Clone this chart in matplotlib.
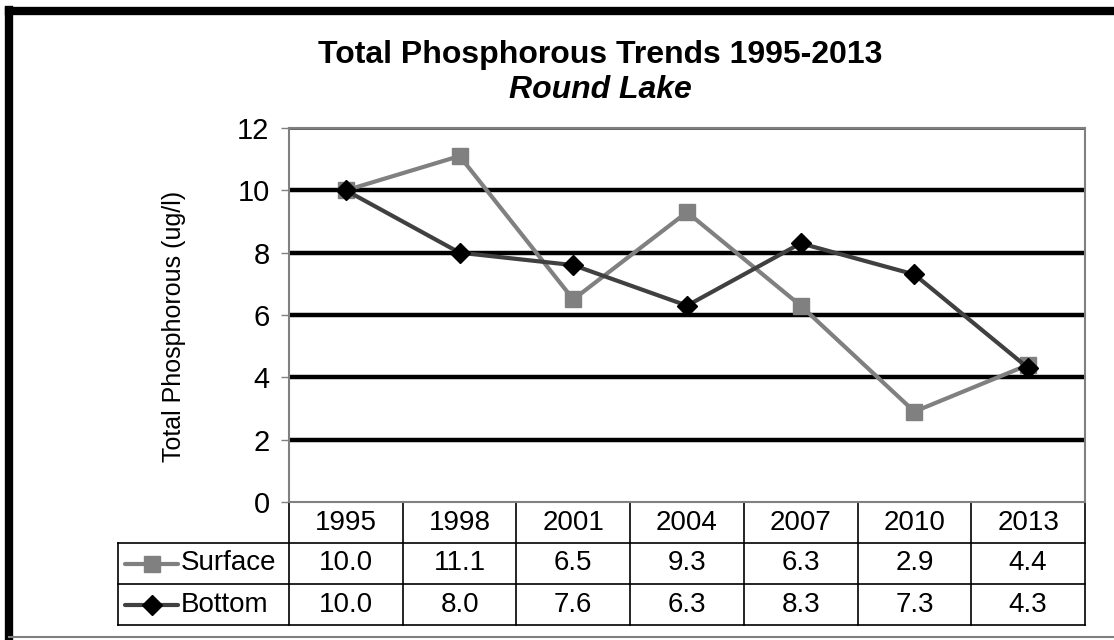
import matplotlib
matplotlib.use("Agg")
import matplotlib.pyplot as plt
from matplotlib.lines import Line2D
from matplotlib.transforms import blended_transform_factory

plt.rcParams['font.family'] = ['Liberation Sans', 'DejaVu Sans']

years = ["1995", "1998", "2001", "2004", "2007", "2010", "2013"]
surface = [10.0, 11.1, 6.5, 9.3, 6.3, 2.9, 4.4]
bottom = [10.0, 8.0, 7.6, 6.3, 8.3, 7.3, 4.3]
series_names = ["Surface", "Bottom"]
y_ticks = [0, 2, 4, 6, 8, 10, 12]

W, H = 1114, 640
fig = plt.figure(figsize=(W / 100, H / 100), dpi=100)

# outer frame
fig.add_artist(Line2D([9 / W, 9 / W], [1 - 10 / H, 0], transform=fig.transFigure,
                      color="black", lw=6, solid_capstyle="projecting"))
fig.add_artist(Line2D([9 / W, 1], [1 - 11 / H, 1 - 11 / H], transform=fig.transFigure,
                      color="black", lw=6, solid_capstyle="projecting"))
fig.add_artist(Line2D([9 / W, 1], [1 - 637 / H, 1 - 637 / H], transform=fig.transFigure,
                      color="#808080", lw=1.5))

left, right, top, bot = 289, 1085, 128, 502
ax = fig.add_axes([left / W, 1 - bot / H, (right - left) / W, (bot - top) / H])

x = list(range(len(years)))
ax.set_xlim(-0.5, len(years) - 0.5)
ax.set_ylim(0, 12)

for v in y_ticks[1:-1]:
    ax.axhline(v, color="black", lw=3.2, zorder=1)
ax.axhline(12, color="#333333", lw=1.8, zorder=1)

ax.plot(x, surface, color="#808080", lw=3, marker="s", markersize=11,
        markerfacecolor="#808080", markeredgecolor="#808080", zorder=3, clip_on=False)
ax.plot(x, bottom, color="#404040", lw=3, marker="D", markersize=10,
        markerfacecolor="black", markeredgecolor="black", zorder=4, clip_on=False)

for s in ["left", "right", "top", "bottom"]:
    ax.spines[s].set_color("#808080")
    ax.spines[s].set_linewidth(1.5)

ax.set_yticks(y_ticks)
ax.set_xticks([])
ax.tick_params(axis="y", labelsize=21, length=6, width=1, color="#808080", pad=8)
ax.set_ylabel("Total Phosphorous (ug/l)", fontsize=18)
ax.yaxis.set_label_coords(-0.13, 0.47)

fig.text(600 / W, 1 - 55 / H, "Total Phosphorous Trends 1995-2013", ha="center", va="center",
         fontsize=23, fontweight="bold")
fig.text(600 / W, 1 - 90 / H, "Round Lake", ha="center", va="center",
         fontsize=23, fontweight="bold", style="italic")

# data table under the axes
tr = blended_transform_factory(ax.transData, fig.transFigure)
row_h = 41
rows_y = [bot, bot + row_h, bot + 2 * row_h, bot + 3 * row_h]
fy = lambda p: 1 - p / H
tab_left = -0.5 - (left - 118) / ((right - left) / len(years))

# horizontal rules
for i, py in enumerate(rows_y):
    x0 = -0.5 if i == 0 else tab_left
    ax.add_line(Line2D([x0, len(years) - 0.5], [fy(py), fy(py)], transform=tr,
                       color="black" if i > 0 else "#808080", lw=1.2, clip_on=False))
# vertical rules
for k in range(len(years) + 1):
    ax.add_line(Line2D([k - 0.5, k - 0.5], [fy(rows_y[0]), fy(rows_y[3])], transform=tr,
                       color="black", lw=1.2, clip_on=False))
ax.add_line(Line2D([tab_left, tab_left], [fy(rows_y[1]), fy(rows_y[3])], transform=tr,
                   color="black", lw=1.2, clip_on=False))

for i, yr in enumerate(years):
    ax.text(i, fy(bot + row_h / 2), yr, transform=tr, ha="center", va="center",
            fontsize=20, clip_on=False)
    ax.text(i, fy(bot + 1.5 * row_h), f"{surface[i]:.1f}", transform=tr, ha="center",
            va="center", fontsize=20, clip_on=False)
    ax.text(i, fy(bot + 2.5 * row_h), f"{bottom[i]:.1f}", transform=tr, ha="center",
            va="center", fontsize=20, clip_on=False)

# legend keys inside the table
key_styles = [dict(color="#808080", marker="s", markersize=11, markerfacecolor="#808080",
                   markeredgecolor="#808080"),
              dict(color="#404040", marker="D", markersize=10, markerfacecolor="black",
                   markeredgecolor="black")]
for r, (name, st) in enumerate(zip(series_names, key_styles)):
    cy = fy(bot + (1.5 + r) * row_h)
    fig.add_artist(Line2D([125 / W, 178 / W], [cy, cy], transform=fig.transFigure,
                          lw=3, solid_capstyle="round", color=st["color"]))
    fig.add_artist(Line2D([151.5 / W], [cy], transform=fig.transFigure, lw=0,
                          marker=st["marker"], markersize=st["markersize"],
                          markerfacecolor=st["markerfacecolor"],
                          markeredgecolor=st["markeredgecolor"]))
    fig.text(181 / W, cy, name, ha="left", va="center", fontsize=20)

fig.savefig("out.png", dpi=100)
